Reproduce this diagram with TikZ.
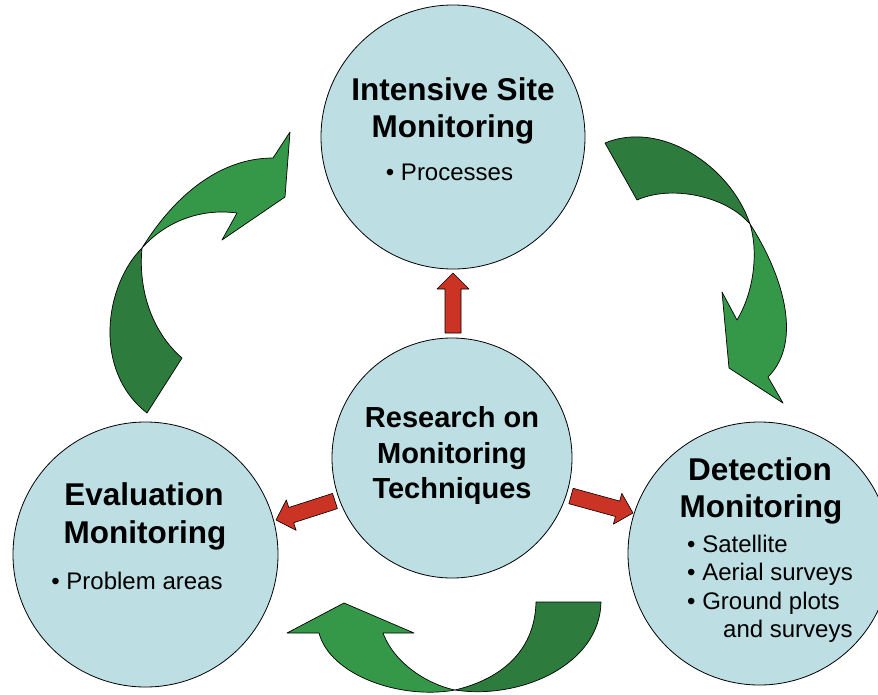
\documentclass[tikz,border=0pt]{standalone}
\usepackage{fontspec}
\setmainfont{Liberation Sans}
\usetikzlibrary{calc}
\definecolor{circfill}{RGB}{189,223,227}
\definecolor{glight}{RGB}{52,152,72}
\definecolor{gdark}{RGB}{45,124,62}
\definecolor{rfill}{RGB}{203,52,36}
\newcommand\blockarr[2]{%
  \coordinate (bac) at ($(#2)!16pt!(#1)$);
  \draw[redarr] ($(#1)!8pt!90:(#2)$) -- ($(bac)!8pt!90:(#2)$) -- ($(bac)!16pt!90:(#2)$)
    -- (#2) -- ($(bac)!16pt!-90:(#2)$) -- ($(bac)!8pt!-90:(#2)$) -- ($(#1)!8pt!-90:(#2)$) -- cycle;}
\begin{document}
\begin{tikzpicture}[x=1pt,y=-1pt,
  circ/.style={circle, draw=black, line width=0.8pt, fill=circfill, inner sep=0pt, minimum size=#1},
  title/.style={font=\fontsize{31.5}{37}\selectfont\bfseries, anchor=base, inner sep=0pt},
  ctitle/.style={font=\fontsize{29}{35}\selectfont\bfseries, anchor=base, inner sep=0pt},
  item/.style={font=\fontsize{24}{28}\selectfont, anchor=base west, inner sep=0pt},
  redarr/.style={fill=rfill, draw=black, line width=0.6pt, line join=round},
  glt/.style={fill=glight, draw=black, line width=0.7pt, line join=round},
  gdk/.style={fill=gdark, draw=black, line width=0.7pt, line join=round}]
\useasboundingbox (0,0) rectangle (878,694);
\clip (0,0) rectangle (878,694);
\fill[white] (0,0) rectangle (878,694);

% circles
\node[circ=264] (top) at (453,137) {};
\node[circ=240] (mid) at (452,458) {};
\node[circ=265] (left) at (145.5,554.5) {};
\node[circ=263] (right) at (759.5,553.5) {};

% texts
\node[title] (topt1) at (453,100) {Intensive Site};
\node[title] (topt2) at (453,137) {Monitoring};
\node[item, anchor=base] (topb) at (449.5,180) {• Processes};

\node[ctitle] (midt1) at (452,427) {Research on};
\node[ctitle] (midt2) at (452,463) {Monitoring};
\node[ctitle] (midt3) at (452,498) {Techniques};

\node[title] (leftt1) at (144,505) {Evaluation};
\node[title] (leftt2) at (145,543) {Monitoring};
\node[item, anchor=base] (leftb) at (137,589) {• Problem areas};

\node[title] (rightt1) at (760,480) {Detection};
\node[title] (rightt2) at (761,517) {Monitoring};
\node[item] (rb1) at (687,552) {• Satellite};
\node[item] (rb2) at (687,580.5) {• Aerial surveys};
\node[item] (rb3) at (687,609) {• Ground plots};
\node[item] (rb4) at (723,637.5) {and surveys};

% red arrows
\coordinate (ua) at (453,333); \coordinate (ub) at (453,273);
\coordinate (la) at (335,501); \coordinate (lb) at (276,520);
\coordinate (ra) at (571,496); \coordinate (rb) at (633,513);
\blockarr{ua}{ub}
\blockarr{la}{lb}
\blockarr{ra}{rb}

% green arrow: left -> top
\coordinate (X) at (142,248);
\draw[gdk] (147,413) -- (182,358) .. controls (152,332) and (138,290) .. (X)
  .. controls (105,285) and (92,370) .. cycle;
\draw[glt] (X) .. controls (175,195) and (220,158) .. (273,158) -- (290,132) -- (285,197)
  -- (222,240) -- (237,213) .. controls (200,208) and (165,222) .. cycle;

% green arrow: top -> right
\coordinate (Y) at (750,224);
\draw[gdk] (605,143) .. controls (660,120) and (730,165) .. (Y)
  .. controls (725,195) and (670,185) .. (637,200) -- cycle;
\draw[glt] (Y) .. controls (780,270) and (805,340) .. (768,377) -- (783,403) -- (729,368)
  -- (722,292) -- (737,320) .. controls (755,290) and (758,250) .. cycle;

% green arrow: right -> left
\coordinate (Z) at (455,690);
\draw[gdk] (536,602) -- (601,602) .. controls (600,665) and (520,700) .. (Z)
  .. controls (505,678) and (535,648) .. cycle;
\draw[glt] (Z) .. controls (400,700) and (330,675) .. (319,633) -- (287,633) -- (344,603)
  -- (414,633) -- (383,633) .. controls (395,665) and (430,685) .. cycle;
\end{tikzpicture}
\end{document}
